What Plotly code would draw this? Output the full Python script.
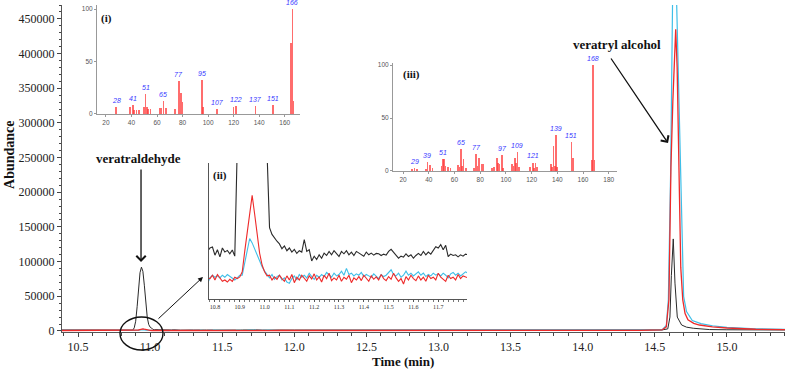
import plotly.graph_objects as go

# ---------------- data: chromatograms (Abundance vs time, min) ----------------
ZOOM_T0 = 10.77   # start of the densely sampled window (shown in inset ii)
ZOOM_DT = 0.01

black_pre_t = [10.389, 10.5, 10.6, 10.7, 10.76]
black_pre = [1450, 1400, 1480, 1420, 1460]
black_zoom = [
    1400, 1500, 1530, 1290, 1450, 1240, 1500, 1380, 1430, 1330,
    1440, 1260, 4500, 14000, 35000, 62000, 84000, 92000, 86000, 66000,
    40000, 20000, 9500, 5500, 4300, 2100, 1900, 1780, 1700, 1620,
    1480, 1560, 1420, 1500, 1380, 1460, 1340, 1420, 1380, 1750,
    1400, 1450, 1120, 1260, 1160, 1300, 1200, 1350, 1280, 1400,
    1300, 1420, 1350, 1250, 1400, 1330, 1420, 1300, 1380, 1280,
    1400, 1350, 1300, 1260, 1380, 1300, 1350, 1290, 1340, 1330,
    1280, 1320, 1290, 1400, 1460, 1380, 1300, 1200, 1260, 1230,
    1330, 1250, 1300, 1200, 1280, 1340, 1280, 1400, 1300, 1380,
    1320, 1450, 1540, 1500, 1600, 1450, 1580, 1250, 1320, 1280,
    1300, 1240, 1300, 1260, 1320, 1300,
]
black_post_t = [11.9, 12.0, 12.5, 13.0, 13.5, 14.0, 14.4, 14.55, 14.59, 14.605,
                14.615, 14.628, 14.64, 14.656, 14.686, 14.72, 14.767, 14.88, 15.0, 15.2, 15.403]
black_post = [1350, 1300, 1280, 1260, 1250, 1300, 1350, 1500, 3000, 20000,
              80000, 132700, 69000, 20000, 8600, 5500, 3900, 2000, 1700, 1500, 1400]

red_pre_t = [10.389, 10.5, 10.6, 10.7, 10.76]
red_pre = [640, 600, 660, 620, 600]
red_zoom = [
    620, 600, 700, 560, 720, 600, 520, 560, 500, 580,
    520, 640, 600, 650, 800, 1400, 2000, 2550, 3050, 2500,
    1900, 1350, 1000, 800, 680, 700, 560, 650, 580, 700,
    600, 520, 680, 560, 720, 480, 640, 560, 700, 620,
    520, 680, 590, 740, 560, 650, 500, 700, 600, 760,
    540, 620, 560, 700, 520, 640, 580, 700, 480, 620,
    560, 660, 540, 700, 600, 520, 680, 580, 650, 560,
    720, 600, 540, 660, 580, 760, 620, 520, 600, 440,
    660, 560, 700, 600, 540, 680, 560, 640, 520, 700,
    600, 640, 560, 760, 640, 580, 520, 700, 600, 640,
    560, 720, 600, 680, 640, 620,
]
red_post_t = [11.9, 12.0, 12.5, 13.0, 13.5, 14.0, 14.4, 14.55, 14.58, 14.598,
              14.612, 14.625, 14.635, 14.645, 14.655, 14.667, 14.68, 14.694, 14.71, 14.73,
              14.77, 14.81, 14.9, 15.0, 15.2, 15.403]
red_post = [640, 620, 600, 620, 650, 700, 800, 1500, 6000, 45000,
            236000, 330000, 400000, 435000, 380000, 236000, 92000, 44700, 25000, 16000,
            11000, 8600, 6000, 4300, 2500, 2000]

cyan_pre_t = [10.389, 10.5, 10.6, 10.7, 10.76]
cyan_pre = [700, 680, 720, 690, 660]
cyan_zoom = [
    450, 620, 700, 640, 680, 620, 700, 640, 720, 660,
    600, 560, 620, 700, 700, 1100, 1500, 1780, 1650, 1480,
    1300, 1100, 950, 820, 730, 620, 720, 580, 660, 700,
    560, 620, 500, 460, 600, 680, 560, 720, 640, 700,
    620, 760, 660, 580, 700, 640, 720, 660, 780, 700,
    640, 760, 680, 720, 820, 700, 900, 720, 760, 680,
    740, 700, 780, 660, 720, 680, 640, 740, 680, 600,
    720, 660, 700, 780, 860, 720, 680, 760, 640, 700,
    820, 700, 760, 680, 740, 800, 700, 760, 660, 720,
    680, 760, 700, 740, 680, 760, 700, 620, 740, 780,
    700, 760, 680, 740, 800, 760,
]
cyan_post_t = [11.9, 12.0, 12.5, 13.0, 13.5, 14.0, 14.4, 14.55, 14.58, 14.594,
               14.61, 14.623, 14.637, 14.652, 14.665, 14.675, 14.69, 14.70, 14.72, 14.76,
               14.82, 14.9, 15.0, 15.2, 15.403]
cyan_post = [690, 700, 680, 700, 720, 750, 850, 1600, 8000, 45000,
             230000, 470000, 600000, 470000, 330000, 236000, 100000, 50000, 28000, 15000,
             10500, 7500, 5200, 3200, 2400]

main_xticks = [10.5, 11.0, 11.5, 12.0, 12.5, 13.0, 13.5, 14.0, 14.5, 15.0]
main_yticks = [0, 50000, 100000, 150000, 200000, 250000, 300000, 350000, 400000, 450000]
zoom_xticks = [10.8, 10.9, 11.0, 11.1, 11.2, 11.3, 11.4, 11.5, 11.6, 11.7]

# ---------------- data: mass spectra ----------------
ms1_mz = [28, 39, 41, 42, 44, 46, 50, 51, 52, 53, 55, 62, 63, 65, 67, 74, 77, 79, 80,
          95, 96, 107, 120, 122, 137, 151, 165, 166, 167]
ms1_int = [6.6, 6.6, 8.6, 4, 3.5, 3.5, 6.6, 19, 6.6, 5, 4.5, 5.5, 6, 12.7, 6, 5, 31.4, 20, 11,
           32.4, 6.6, 4.8, 6.6, 7.6, 7.6, 8.6, 68, 100, 12.7]
ms1_labels = [28, 41, 51, 65, 77, 95, 107, 122, 137, 151, 166]

ms3_mz = [27, 29, 31, 38, 39, 41, 43, 50, 51, 52, 53, 55, 57, 63, 64, 65, 66, 67, 69,
          75, 77, 78, 79, 81, 82, 89, 91, 93, 94, 95, 97, 98, 105, 106, 107, 108, 109, 110,
          119, 121, 122, 123, 124, 135, 136, 137, 138, 139, 140, 151, 152, 167, 168, 169]
ms3_int = [2, 2.5, 2, 2, 8.6, 6, 2.5, 5, 11, 11, 5, 4, 3, 6, 4, 20.5, 5, 11, 3,
           3, 16, 5, 12, 6.6, 6.6, 3, 4, 12, 7.5, 7, 15.4, 3, 6.6, 5, 12, 8, 18, 4,
           4, 8, 3, 7.2, 4, 6.6, 4, 23.6, 5, 34, 4, 27.7, 12, 10, 100, 10]
ms3_labels = [29, 39, 51, 65, 77, 97, 109, 121, 139, 151, 168]
ms_xticks_i = [20, 40, 60, 80, 100, 120, 140, 160]
ms_xticks_iii = [20, 40, 60, 80, 100, 120, 140, 160, 180]
ms_yticks = [0, 50, 100]


def zoom_times(n):
    return [round(ZOOM_T0 + ZOOM_DT * i, 2) for i in range(n)]


black_t = black_pre_t + zoom_times(len(black_zoom)) + black_post_t
black_y = black_pre + black_zoom + black_post
red_t = red_pre_t + zoom_times(len(red_zoom)) + red_post_t
red_y = red_pre + red_zoom + red_post
cyan_t = cyan_pre_t + zoom_times(len(cyan_zoom)) + cyan_post_t
cyan_y = cyan_pre + cyan_zoom + cyan_post

BLACK = "#2a2a2a"
RED = "#ee2a2a"
CYAN = "#3fbfe8"
BAR = "rgba(255,60,60,0.75)"
LBL = "#3a3aff"
SERIF = "Liberation Serif"
SANS = "Liberation Sans"

fig = go.Figure()

# main chromatogram
for t, y, c, w in [(black_t, black_y, BLACK, 1.0), (cyan_t, cyan_y, CYAN, 1.2), (red_t, red_y, RED, 1.3)]:
    fig.add_trace(go.Scatter(x=t, y=y, mode="lines", line=dict(color=c, width=w),
                             xaxis="x", yaxis="y", showlegend=False, hoverinfo="skip"))
# inset (ii) zoom of the veratraldehyde peak
for t, y, c in [(black_t, black_y, BLACK), (cyan_t, cyan_y, CYAN), (red_t, red_y, RED)]:
    fig.add_trace(go.Scatter(x=t, y=y, mode="lines", line=dict(color=c, width=1.1),
                             xaxis="x3", yaxis="y3", showlegend=False, hoverinfo="skip"))
# inset (i) and (iii) mass spectra
fig.add_trace(go.Bar(x=ms1_mz, y=ms1_int, width=1.3, marker=dict(color=BAR, line=dict(width=0)),
                     xaxis="x2", yaxis="y2", showlegend=False, hoverinfo="skip"))
fig.add_trace(go.Bar(x=ms3_mz, y=ms3_int, width=1.3, marker=dict(color=BAR, line=dict(width=0)),
                     xaxis="x4", yaxis="y4", showlegend=False, hoverinfo="skip"))

annotations = []
for mz in ms1_labels:
    annotations.append(dict(x=mz, y=ms1_int[ms1_mz.index(mz)] + 1, xref="x2", yref="y2",
                            text="<i>%d</i>" % mz, showarrow=False, xanchor="center", yanchor="bottom",
                            font=dict(family=SANS, size=7, color=LBL)))
for mz in ms3_labels:
    annotations.append(dict(x=mz, y=ms3_int[ms3_mz.index(mz)] + 1, xref="x4", yref="y4",
                            text="<i>%d</i>" % mz, showarrow=False, xanchor="center", yanchor="bottom",
                            font=dict(family=SANS, size=7, color=LBL)))


def label(x, y, text, size=13, angle=0):
    return dict(x=x, y=y, xref="paper", yref="paper", text=text, showarrow=False,
                xanchor="center", yanchor="middle", textangle=angle,
                font=dict(family=SERIF, size=size, color="#111"))


def arrow(x, y, ax, ay, head, size, width):
    return dict(x=x, y=y, xref="paper", yref="paper", ax=ax, ay=ay, text="",
                showarrow=True, arrowhead=head, arrowsize=size, arrowwidth=width,
                arrowcolor="#111")


annotations += [
    label(0.1065, 0.532, "<b>veratraldehyde</b>"),
    label(0.7676, 0.8777, "<b>veratryl alcohol</b>"),
    label(-0.0735, 0.541, "<b>Abundance</b>", size=14, angle=-90),
    label(0.4716, -0.0917, "<b>Time (min)</b>"),
    label(0.0609, 0.960, "<b>(i)</b>", size=11),
    label(0.2185, 0.480, "<b>(ii)</b>", size=11),
    label(0.484, 0.786, "<b>(iii)</b>", size=11),
    arrow(0.1093, 0.2141, 0, -94, 4, 1.4, 1.3),
    arrow(0.1950, 0.1682, -46, 43, 2, 1.0, 1.0),
    arrow(0.8382, 0.578, -58, -86, 4, 1.4, 1.3),
]

shapes = [dict(type="circle", xref="paper", yref="paper", x0=0.0802, x1=0.1397,
               y0=-0.055, y1=0.046, line=dict(color="#111", width=1.4))]

ms_tick = dict(family=SANS, size=6.5, color="#555")
ms_axis = dict(showgrid=False, zeroline=False, showline=True, linecolor="#999", linewidth=1,
               ticks="outside", ticklen=2, tickcolor="#999", tickfont=ms_tick, automargin=False)

fig.update_layout(
    width=785, height=371,
    margin=dict(l=62, r=0, t=5, b=39),
    paper_bgcolor="white", plot_bgcolor="rgba(0,0,0,0)",
    template="none",
    bargap=0,
    showlegend=False,
    xaxis=dict(domain=[0, 1], anchor="y", range=[10.389, 15.403],
               tickvals=main_xticks, ticktext=["%.1f" % v for v in main_xticks],
               ticks="outside", ticklen=4, tickcolor="#444",
               minor=dict(dtick=0.1, tick0=10.5, ticks="outside", ticklen=2.5, tickcolor="#444"),
               showline=True, linecolor="#555", linewidth=1, showgrid=False, zeroline=False,
               tickfont=dict(family=SERIF, size=12, color="#222"), automargin=False),
    yaxis=dict(domain=[0, 1], anchor="x", range=[-1500, 470000],
               tickvals=main_yticks, ticktext=[str(v) for v in main_yticks],
               ticks="outside", ticklen=4, tickcolor="#444",
               minor=dict(dtick=10000, tick0=0, ticks="outside", ticklen=2.5, tickcolor="#444"),
               showline=True, linecolor="#555", linewidth=1, showgrid=False, zeroline=False,
               tickfont=dict(family=SERIF, size=12, color="#222"), automargin=False),
    xaxis2=dict(domain=[0.0484, 0.3292], anchor="y2", range=[13, 172], tickvals=ms_xticks_i, **ms_axis),
    yaxis2=dict(domain=[0.6667, 1.0], anchor="x2", range=[0, 104], tickvals=ms_yticks, **ms_axis),
    xaxis4=dict(domain=[0.4578, 0.7676], anchor="y4", range=[12.2, 186.4], tickvals=ms_xticks_iii, **ms_axis),
    yaxis4=dict(domain=[0.4924, 0.8226], anchor="x4", range=[0, 102], tickvals=ms_yticks, **ms_axis),
    xaxis3=dict(domain=[0.2033, 0.5602], anchor="y3", range=[10.776, 11.816],
                tickvals=zoom_xticks, ticktext=["%.1f" % v for v in zoom_xticks],
                ticks="outside", ticklen=2, tickcolor="#555",
                minor=dict(dtick=0.02, tick0=10.8, ticks="outside", ticklen=1.5, tickcolor="#777"),
                showline=True, linecolor="#555", linewidth=1, showgrid=False, zeroline=False,
                tickfont=dict(family=SERIF, size=6, color="#333"), automargin=False),
    yaxis3=dict(domain=[0.1009, 0.5168], anchor="x3", range=[0, 4000], showticklabels=False,
                ticks="", showline=True, linecolor="#555", linewidth=1, showgrid=False,
                zeroline=False, automargin=False),
    annotations=annotations,
    shapes=shapes,
)

fig.write_html("out.html", config={"displayModeBar": False},
               post_script="document.body.style.margin='0';document.body.style.padding='0';")
